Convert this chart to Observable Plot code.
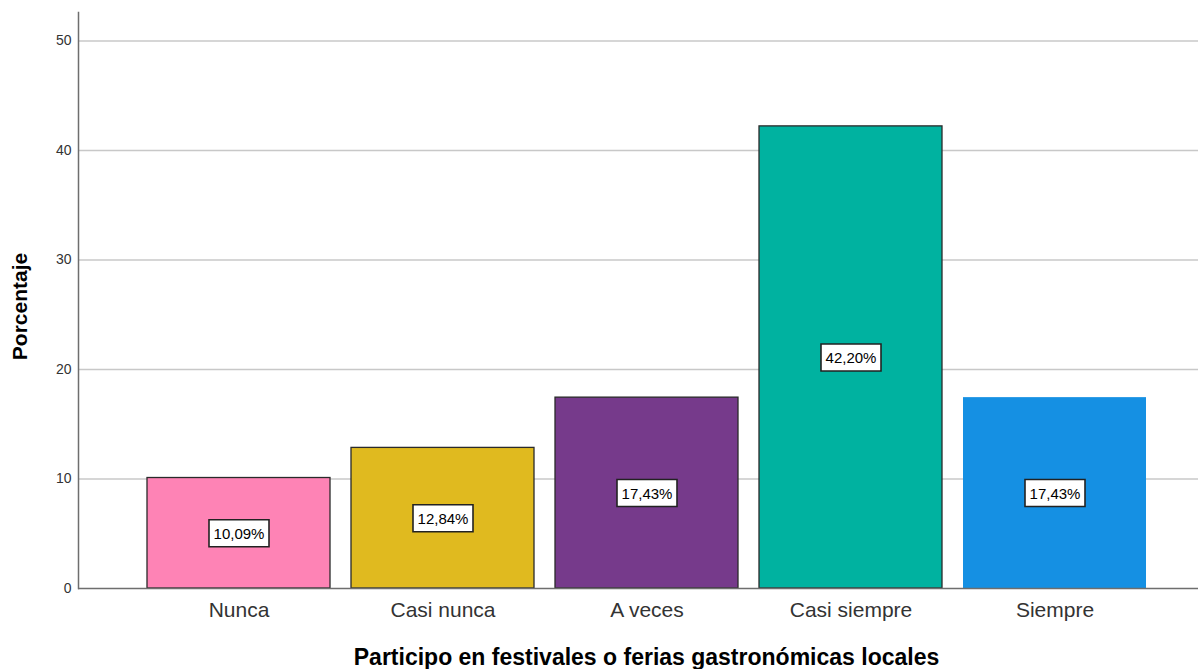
<!DOCTYPE html>
<html>
<head>
<meta charset="utf-8">
<script src="https://cdn.jsdelivr.net/npm/d3@7"></script>
<script src="https://cdn.jsdelivr.net/npm/@observablehq/plot@0.6"></script>
<style>
  html, body { margin: 0; padding: 0; background: #fff; overflow: hidden; }
  #chart svg { overflow: hidden; }
</style>
</head>
<body>
<div id="chart"></div>
<script>
const categories = ["Nunca", "Casi nunca", "A veces", "Casi siempre", "Siempre"];
const values = [10.09, 12.84, 17.43, 42.20, 17.43];
const valueLabels = ["10,09%", "12,84%", "17,43%", "42,20%", "17,43%"];
const yTicks = [0, 10, 20, 30, 40, 50];
const xTitle = "Participo en festivales o ferias gastronómicas locales";
const yTitle = "Porcentaje";

const data = categories.map((c, i) => ({cat: c, value: values[i], label: valueLabels[i]}));

// box symbol for value labels (fixed pixel size)
const boxSymbol = {draw(ctx) { ctx.rect(-30, -13.5, 60, 27); }};

const font = "Arial, 'Liberation Sans', sans-serif";

const chart = Plot.plot({
  width: 1198,
  height: 669,
  marginTop: 12,
  marginLeft: 78,
  marginRight: -16,
  marginBottom: 81,
  style: {fontFamily: font, background: "#fff", color: "#333"},
  x: {domain: categories, paddingInner: 0.103, paddingOuter: 0.333, label: null},
  y: {domain: [0, 52.6], label: null},
  color: {domain: categories, range: ["#fe83b5", "#e0ba1f", "#763a8b", "#00b2a0", "#1590e3"]},
  marks: [
    Plot.gridY(yTicks.filter(d => d > 0), {stroke: "#c8c8c8", strokeOpacity: 1, strokeWidth: 1.5}),
    Plot.barY(data, {
      x: "cat", y: "value", fill: "cat",
      stroke: d => d.cat === "Siempre" ? "none" : "#2a2a2a",
      strokeWidth: 1.3
    }),
    Plot.dot(data, {
      x: "cat", y: d => d.value / 2,
      symbol: boxSymbol, fill: "#fff", stroke: "#222", strokeWidth: 1.6
    }),
    Plot.text(data, {
      x: "cat", y: d => d.value / 2, text: "label",
      fontSize: 15, fill: "#000", dy: 1
    }),
    Plot.ruleY([0], {stroke: "#6e6e6e", strokeWidth: 1.5}),
    Plot.frame({anchor: "left", stroke: "#6e6e6e", strokeWidth: 1.5}),
    Plot.axisY({ticks: yTicks, tickSize: 0, tickPadding: 7, fontSize: 14, fill: "#333", label: null}),
    Plot.axisX({tickSize: 0, tickPadding: 14, fontSize: 21, fill: "#333", label: null}),
    Plot.text([xTitle], {frameAnchor: "bottom", dy: 76, fontSize: 23, fontWeight: "bold", fill: "#000"}),
    Plot.text([yTitle], {frameAnchor: "left", dx: -58, dy: 6, rotate: -90, textAnchor: "middle", fontSize: 21, fontWeight: "bold", fill: "#000"})
  ]
});

document.getElementById("chart").appendChild(chart);
</script>
</body>
</html>
